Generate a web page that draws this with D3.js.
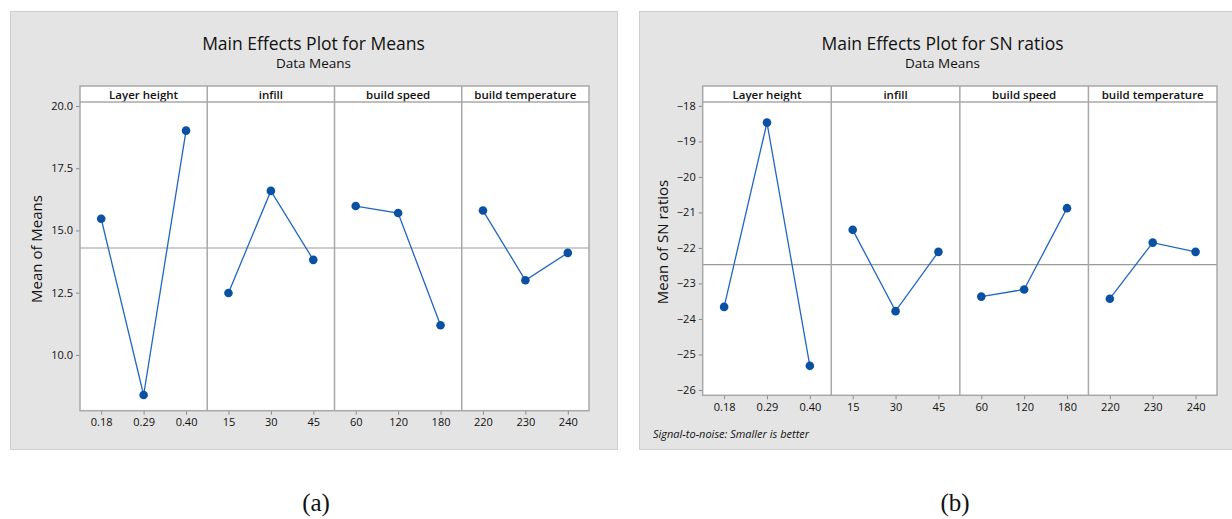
<!doctype html>
<html>
  <head>
    <meta charset="utf-8">
    <title>Main effects plots</title>
    <script src="https://cdn.jsdelivr.net/npm/d3@7"></script>
    <style>
      html, body { margin:0; padding:0; background:#fff; overflow:hidden }
      svg { display:block }
      text { font-family: "Open Sans", "Noto Sans", sans-serif; fill:#111 }
    </style>
  </head>
  <body>
    <script>
      var factors = ["Layer height", "infill", "build speed", "build temperature"];
      var levels = [["0.18", "0.29", "0.40"], ["15", "30", "45"], ["60", "120", "180"], ["220", "230", "240"]];

      var meansValues = [[15.47, 8.39, 19.01], [12.49, 16.59, 13.82], [15.98, 15.70, 11.19], [15.80, 13.00, 14.10]];
      var meansTicks = [10, 12.5, 15, 17.5, 20];

      var snValues = [[-23.66, -18.47, -25.32], [-21.49, -23.78, -22.11], [-23.37, -23.17, -20.88], [-23.43, -21.85, -22.11]];
      var snTicks = [-26, -25, -24, -23, -22, -21, -20, -19, -18];

      var svg = d3.select("body").append("svg")
        .attr("width", 1232).attr("height", 519);

      function drawChart(o) {
        var g = svg.append("g");
        g.append("rect")
          .attr("x", o.box[0] + 0.5).attr("y", o.box[1] + 0.5)
          .attr("width", o.box[2]).attr("height", o.box[3])
          .attr("fill", "#e4e4e4").attr("stroke", "#cfcfcf");

        var cx = o.box[0] + o.box[2] / 2;
        g.append("text").attr("x", cx).attr("y", 50)
          .attr("text-anchor", "middle").style("font-size", "17.5px")
          .text(o.title);
        g.append("text").attr("x", cx).attr("y", 68)
          .attr("text-anchor", "middle").style("font-size", "13.5px")
          .text("Data Means");

        var x0 = o.left, x1 = o.right, top = 86, hb = 102, bottom = o.bottom;
        var y = d3.scaleLinear().domain(o.domain).range([bottom, hb]);
        var panel = d3.scaleBand().domain(factors).range([x0, x1]);

        // plot and header backgrounds
        g.append("rect").attr("x", x0).attr("y", top)
          .attr("width", x1 - x0).attr("height", bottom - top).attr("fill", "#fff");

        // grand mean reference line
        var grand = d3.mean(d3.merge(o.values));
        g.append("line").attr("x1", x0).attr("x2", x1)
          .attr("y1", y(grand)).attr("y2", y(grand))
          .attr("stroke", "#9a9a9a").attr("stroke-width", 1.2);

        // y axis
        var ya = g.append("g").attr("transform", "translate(" + x0 + ",0)")
          .call(d3.axisLeft(y).tickValues(o.ticks).tickSize(4).tickPadding(3)
            .tickFormat(o.fmt));
        ya.select(".domain").remove();
        ya.selectAll("line").attr("stroke", "#8a8a8a");
        ya.selectAll("text").style("font-size", "11px")
          .style("font-family", "'Open Sans', sans-serif").attr("fill", "#111");

        factors.forEach(function(f, i) {
          var px = panel(f), w = panel.bandwidth();
          var x = d3.scalePoint().domain(levels[i]).range([px, px + w]).padding(0.5);

          g.append("text").attr("x", px + w / 2).attr("y", 98.5)
            .attr("text-anchor", "middle").style("font-size", "11.5px")
            .style("font-weight", 600).text(f);

          var xa = g.append("g").attr("transform", "translate(0," + bottom + ")")
            .call(d3.axisBottom(x).tickSize(4).tickPadding(4));
          xa.select(".domain").remove();
          xa.selectAll("line").attr("stroke", "#8a8a8a");
          xa.selectAll("text").style("font-size", "11px")
            .style("font-family", "'Open Sans', sans-serif").attr("fill", "#111");

          var pts = levels[i].map(function(l, j) { return [x(l), y(o.values[i][j])]; });
          g.append("path").attr("d", d3.line()(pts))
            .attr("fill", "none").attr("stroke", "#2266c0").attr("stroke-width", 1.3);
          g.selectAll(null).data(pts).enter().append("circle")
            .attr("cx", function(d) { return d[0]; })
            .attr("cy", function(d) { return d[1]; })
            .attr("r", 4.3).attr("fill", "#0a50a3");

          if (i > 0) {
            g.append("line").attr("x1", px).attr("x2", px)
              .attr("y1", top).attr("y2", bottom)
              .attr("stroke", "#a8a8a8").attr("stroke-width", 1.5);
          }
        });

        // frame + header line
        g.append("rect").attr("x", x0).attr("y", top)
          .attr("width", x1 - x0).attr("height", bottom - top)
          .attr("fill", "none").attr("stroke", "#a8a8a8").attr("stroke-width", 1.5);
        g.append("line").attr("x1", x0).attr("x2", x1).attr("y1", hb).attr("y2", hb)
          .attr("stroke", "#a8a8a8").attr("stroke-width", 1.5);

        g.append("text")
          .attr("transform", "translate(" + o.ylabX + "," + o.ylabY + ") rotate(-90)")
          .attr("text-anchor", "middle").style("font-size", "15px")
          .text(o.ylabel);

        if (o.note) {
          g.append("text").attr("x", o.box[0] + 14).attr("y", 438)
            .style("font-size", "11px").style("font-style", "italic")
            .text(o.note);
        }

        svg.append("text").attr("x", o.captionX).attr("y", 511)
          .attr("text-anchor", "middle")
          .style("font-family", "'Liberation Serif', 'Times New Roman', serif")
          .style("font-size", "25px").text(o.caption);
      }

      drawChart({
        box: [10, 11, 607, 438], title: "Main Effects Plot for Means",
        left: 80, right: 589, bottom: 410.7, domain: [7.76, 20.16],
        ticks: meansTicks, fmt: d3.format(".1f"), values: meansValues,
        ylabel: "Mean of Means", ylabX: 42, ylabY: 249,
        caption: "(a)", captionX: 316
      });

      drawChart({
        box: [639, 11, 607, 438], title: "Main Effects Plot for SN ratios",
        left: 702.7, right: 1217, bottom: 395.3, domain: [-26.15, -17.89],
        ticks: snTicks, fmt: d3.format("d"), values: snValues,
        ylabel: "Mean of SN ratios", ylabX: 668, ylabY: 242,
        note: "Signal-to-noise: Smaller is better",
        caption: "(b)", captionX: 955
      });
    </script>
  </body>
</html>
